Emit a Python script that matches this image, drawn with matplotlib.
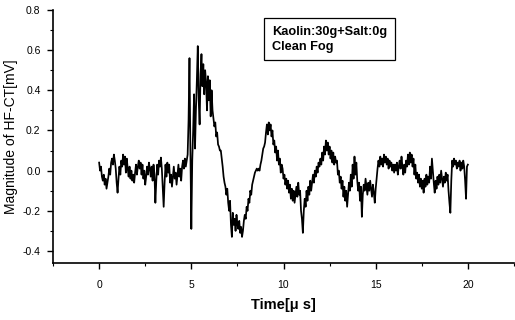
import numpy as np
import matplotlib
matplotlib.use("Agg")
import matplotlib.pyplot as plt
from matplotlib.ticker import MultipleLocator

plt.rcParams['font.family'] = ['Liberation Sans', 'DejaVu Sans']

# sample times (µs), 0.05 µs step from 0 to 20
t_start, t_stop, t_step = 0.0, 20.0, 0.05

# magnitude of HF-CT (mV), one row per µs
v00 = [0.04, 0.00, 0.02, -0.03, -0.05, -0.02, -0.07, -0.04, -0.09, -0.06, -0.03, 0.01, -0.02, 0.04, 0.06, 0.03, 0.08, 0.05, 0.01, -0.06]
v01 = [-0.11, -0.04, 0.02, -0.02, 0.05, 0.02, 0.08, 0.03, 0.07, -0.01, 0.06, 0.01, -0.03, 0.02, -0.04, 0.00, -0.05, -0.02, -0.06, -0.01]
v02 = [0.03, -0.02, 0.02, 0.05, 0.01, 0.04, -0.02, 0.03, -0.04, 0.00, -0.07, -0.03, 0.02, -0.02, 0.04, 0.01, -0.03, 0.02, -0.05, 0.03]
v03 = [-0.02, -0.16, -0.05, 0.03, -0.02, 0.05, 0.02, 0.065, 0.01, -0.08, -0.18, -0.06, 0.03, -0.03, 0.04, -0.01, 0.03, -0.06, -0.02, -0.08]
v04 = [-0.03, 0.02, -0.04, -0.01, -0.07, -0.02, 0.03, -0.03, 0.01, -0.05, 0.02, 0.05, 0.01, 0.06, 0.02, 0.05, 0.08, 0.25, 0.56, 0.10]
v05 = [-0.29, 0.05, 0.20, 0.38, 0.11, 0.30, 0.45, 0.62, 0.35, 0.23, 0.48, 0.58, 0.42, 0.53, 0.38, 0.50, 0.44, 0.30, 0.47, 0.35]
v06 = [0.45, 0.27, 0.40, 0.30, 0.26, 0.22, 0.24, 0.17, 0.19, 0.13, 0.12, 0.10, 0.10, 0.06, 0.02, -0.03, -0.06, -0.08, -0.12, -0.09]
v07 = [-0.16, -0.20, -0.15, -0.27, -0.33, -0.21, -0.27, -0.24, -0.30, -0.22, -0.27, -0.29, -0.25, -0.31, -0.28, -0.33, -0.30, -0.25, -0.22, -0.24]
v08 = [-0.18, -0.20, -0.14, -0.16, -0.10, -0.12, -0.07, -0.05, -0.03, -0.01, 0.00, 0.01, 0.00, 0.01, 0.00, 0.03, 0.05, 0.08, 0.11, 0.12]
v09 = [0.14, 0.19, 0.23, 0.18, 0.24, 0.20, 0.23, 0.17, 0.20, 0.13, 0.15, 0.09, 0.12, 0.05, 0.10, 0.03, 0.06, -0.01, 0.03, 0.01]
v10 = [-0.04, -0.02, -0.07, -0.04, -0.09, -0.05, -0.11, -0.07, -0.14, -0.09, -0.15, -0.10, -0.16, -0.12, -0.08, -0.13, -0.06, -0.12, -0.10, -0.20]
v11 = [-0.24, -0.31, -0.20, -0.14, -0.18, -0.10, -0.15, -0.08, -0.12, -0.05, -0.10, -0.06, -0.02, -0.06, 0.00, -0.03, 0.02, -0.01, 0.04, 0.02]
v12 = [0.06, 0.03, 0.09, 0.05, 0.12, 0.08, 0.15, 0.10, 0.14, 0.08, 0.12, 0.06, 0.10, 0.04, 0.09, 0.03, 0.07, 0.04, 0.05, -0.02]
v13 = [0.00, -0.06, -0.03, -0.09, -0.05, -0.13, -0.08, -0.15, -0.10, -0.18, -0.12, -0.06, -0.10, -0.02, -0.08, 0.03, -0.04, 0.07, -0.02, 0.04]
v14 = [-0.05, -0.10, -0.06, -0.15, -0.08, -0.23, -0.12, -0.07, -0.10, -0.04, -0.08, -0.12, -0.06, -0.10, -0.05, -0.09, -0.13, -0.07, -0.11, -0.16]
v15 = [-0.09, -0.04, 0.01, 0.05, 0.02, 0.07, 0.03, 0.06, 0.02, 0.08, 0.04, 0.07, 0.03, 0.06, 0.01, 0.05, 0.02, 0.04, 0.00, 0.03]
v16 = [-0.01, 0.03, 0.00, 0.04, -0.02, 0.02, 0.05, 0.01, 0.07, 0.02, -0.02, 0.03, -0.01, 0.05, 0.02, 0.08, 0.03, 0.09, 0.04, 0.08]
v17 = [0.02, 0.06, -0.02, 0.03, -0.04, -0.01, -0.06, -0.02, -0.08, -0.04, -0.09, -0.05, -0.11, -0.04, -0.08, -0.02, -0.07, -0.03, -0.06, 0.02]
v18 = [-0.04, 0.06, 0.00, -0.06, -0.11, -0.05, -0.09, -0.03, -0.07, -0.02, -0.06, 0.00, -0.04, -0.08, -0.03, -0.06, -0.01, -0.05, -0.02, -0.10]
v19 = [-0.16, -0.21, -0.05, 0.05, 0.02, 0.06, 0.03, 0.05, 0.01, 0.04, 0.02, 0.05, 0.00, 0.04, 0.01, 0.05, 0.02, -0.05, -0.14, 0.02]
v20 = [0.03]

values = np.array(v00 + v01 + v02 + v03 + v04 + v05 + v06 + v07 + v08 + v09 +
                  v10 + v11 + v12 + v13 + v14 + v15 + v16 + v17 + v18 + v19 + v20)
times = t_start + t_step * np.arange(len(values))

x_ticks = [0, 5, 10, 15, 20]
y_ticks = [-0.4, -0.2, 0.0, 0.2, 0.4, 0.6, 0.8]
y_tick_labels = ['-0.4', '-0.2', '0.0', '0.2', '0.4', '0.6', '0.8']
legend_text = "Kaolin:30g+Salt:0g\nClean Fog"

fig = plt.figure(figsize=(5.15, 3.2), dpi=100)
ax = fig.add_axes([0.103, 0.178, 0.895, 0.791])
ax.plot(times, values, color='black', lw=1.25)

ax.set_xlim(-2.5, 22.5)
ax.set_ylim(-0.46, 0.8)
ax.set_xticks(x_ticks)
ax.set_xticklabels([str(v) for v in x_ticks])
ax.set_yticks(y_ticks)
ax.set_yticklabels(y_tick_labels)
ax.xaxis.set_minor_locator(MultipleLocator(2.5))
ax.yaxis.set_minor_locator(MultipleLocator(0.1))
ax.tick_params(which='major', direction='out', length=4, width=1.0, labelsize=7.5)
ax.tick_params(axis='x', which='major', pad=8)
ax.tick_params(axis='y', which='major', pad=5)
ax.tick_params(which='minor', direction='out', length=2, width=0.8)
for s in ['top', 'right']:
    ax.spines[s].set_visible(False)
for s in ['left', 'bottom']:
    ax.spines[s].set_linewidth(1.2)

ax.set_xlabel('Time[μ s]', fontsize=10.5, fontweight='bold', labelpad=6)
ax.set_ylabel('Magnitude of HF-CT[mV]', fontsize=10, labelpad=3)

ax.text(0.475, 0.938, legend_text, transform=ax.transAxes, fontsize=9.2,
        fontweight='bold', va='top', ha='left', linespacing=1.35,
        bbox=dict(boxstyle='square,pad=0.6', facecolor='white', edgecolor='black', lw=0.9))

fig.savefig('out.png', dpi=100)
